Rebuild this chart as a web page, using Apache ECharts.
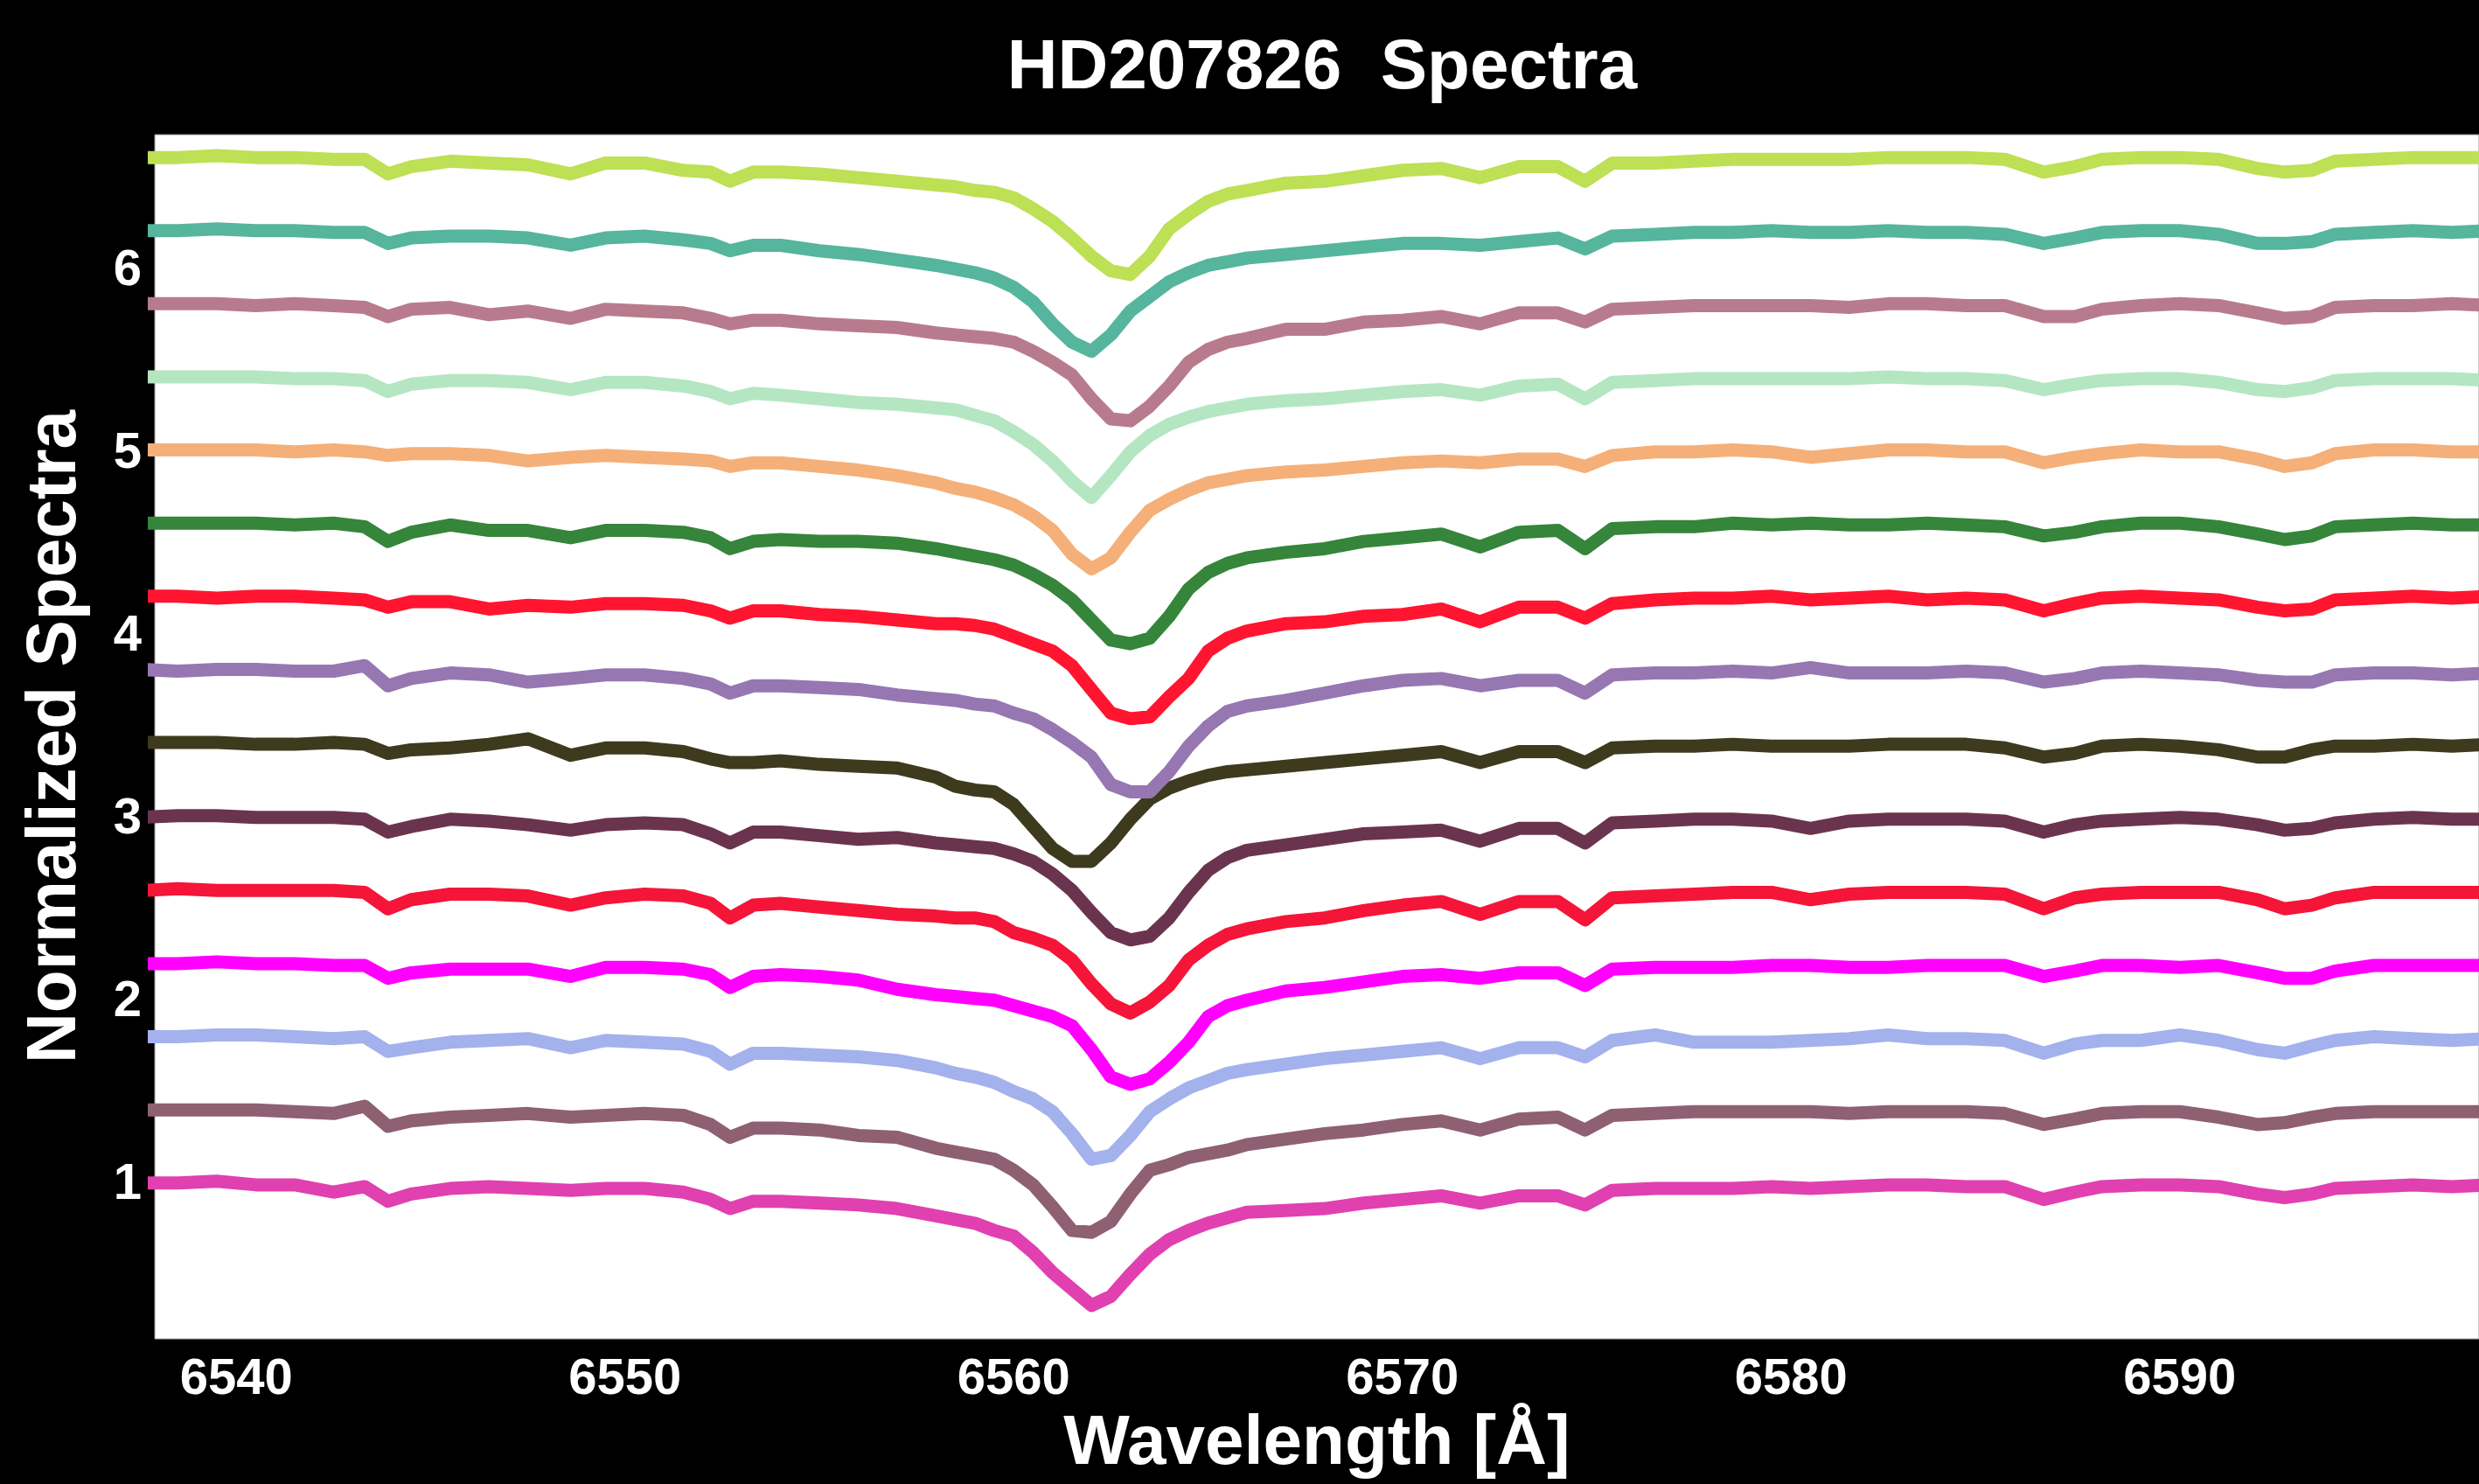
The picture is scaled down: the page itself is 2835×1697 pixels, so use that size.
<!DOCTYPE html>
<html>
<head>
<meta charset="utf-8">
<title>HD207826 Spectra</title>
<script src="https://cdn.jsdelivr.net/npm/echarts@6/dist/echarts.min.js"></script>
<style>
  html, body { margin: 0; padding: 0; background: #000; }
  #chart { width: 2835px; height: 1697px; }
</style>
</head>
<body>
<div id="chart"></div>
<script>
// wavelength grid shared by all spectra (Å)
const wavelength = [6537.5, 6538.5, 6539.5, 6540.5, 6541.5, 6542.5, 6543.3, 6543.9, 6544.5, 6545.5,
  6546.5, 6547.5, 6548.6, 6549.5, 6550.5, 6551.5, 6552.2, 6552.7, 6553.3, 6554.0,
  6555.0, 6556.0, 6557.0, 6558.0, 6558.5, 6559.0, 6559.5, 6560.0, 6560.5, 6561.0,
  6561.5, 6562.0, 6562.5, 6563.0, 6563.5, 6564.0, 6564.5, 6565.0, 6565.5, 6566.0,
  6567.0, 6568.0, 6569.0, 6570.0, 6571.0, 6572.0, 6573.0, 6574.0, 6574.7, 6575.4,
  6576.5, 6577.5, 6578.5, 6579.5, 6580.5, 6581.5, 6582.5, 6583.5, 6584.5, 6585.5,
  6586.5, 6587.3, 6588.0, 6589.0, 6590.0, 6591.0, 6592.0, 6592.7, 6593.4, 6594.0,
  6595.0, 6596.0, 6597.0, 6598.0];

// normalized flux of each spectrum (bottom to top)
const spec1 = [1.01, 1.01, 1.02, 1.00, 1.00, 0.96, 0.99, 0.91, 0.95, 0.98, 0.99, 0.98, 0.97, 0.98, 0.98, 0.96, 0.92, 0.87, 0.91, 0.91, 0.90, 0.89,
  0.87, 0.83, 0.81, 0.79, 0.75, 0.72, 0.63, 0.52, 0.43, 0.34, 0.39, 0.51, 0.62, 0.70, 0.75, 0.79, 0.82, 0.85, 0.86,
  0.87, 0.90, 0.92, 0.94, 0.90, 0.94, 0.94, 0.89, 0.97, 0.98, 0.98, 0.98, 0.99, 0.98, 0.99, 1.00, 1.00, 0.99, 0.99, 0.92, 0.96, 0.99, 1.00, 1.00, 0.99, 0.95, 0.93, 0.95, 0.98, 0.99, 1.00, 0.99, 1.00];
const spec2 = [1.01, 1.01, 1.01, 1.01, 1.00, 0.99, 1.03, 0.92, 0.95, 0.97, 0.98, 0.99, 0.97, 0.98, 0.99, 0.98, 0.93, 0.86, 0.91, 0.91, 0.90, 0.87,
  0.86, 0.80, 0.78, 0.76, 0.74, 0.68, 0.60, 0.48, 0.35, 0.34, 0.40, 0.55, 0.68, 0.71, 0.75, 0.77, 0.79, 0.82, 0.85,
  0.88, 0.90, 0.93, 0.95, 0.90, 0.96, 0.97, 0.90, 0.98, 0.99, 1.00, 1.00, 1.00, 1.00, 0.99, 1.00, 1.00, 1.00, 0.99, 0.93, 0.96, 0.99, 1.00, 1.00, 0.97, 0.93, 0.94, 0.97, 0.99, 1.00, 1.00, 1.00, 1.00];
const spec3 = [1.01, 1.01, 1.02, 1.02, 1.01, 1.00, 1.01, 0.93, 0.95, 0.98, 0.99, 1.00, 0.95, 0.99, 0.98, 0.97, 0.93, 0.86, 0.92, 0.92, 0.91, 0.90,
  0.88, 0.84, 0.81, 0.79, 0.76, 0.71, 0.67, 0.60, 0.48, 0.34, 0.36, 0.47, 0.60, 0.67, 0.73, 0.77, 0.81, 0.83, 0.86,
  0.89, 0.91, 0.93, 0.95, 0.89, 0.95, 0.95, 0.90, 0.99, 1.02, 0.98, 0.98, 0.98, 0.99, 1.00, 1.02, 1.00, 1.00, 0.99, 0.92, 0.97, 0.99, 0.99, 1.02, 0.99, 0.94, 0.92, 0.96, 0.99, 1.01, 1.00, 0.99, 1.00];
const spec4 = [1.01, 1.01, 1.02, 1.01, 1.01, 1.00, 1.00, 0.93, 0.96, 0.98, 0.98, 0.98, 0.94, 0.99, 0.99, 0.98, 0.95, 0.88, 0.94, 0.95, 0.94, 0.92,
  0.87, 0.84, 0.83, 0.82, 0.81, 0.78, 0.75, 0.72, 0.67, 0.54, 0.39, 0.35, 0.38, 0.47, 0.58, 0.72, 0.78, 0.81, 0.86,
  0.88, 0.91, 0.94, 0.95, 0.93, 0.96, 0.96, 0.89, 0.98, 0.99, 0.99, 0.99, 1.00, 1.00, 0.99, 0.99, 1.00, 1.00, 1.00, 0.94, 0.97, 1.00, 1.00, 0.99, 1.00, 0.96, 0.93, 0.93, 0.97, 1.00, 1.00, 1.00, 1.00];
const spec5 = [1.01, 1.02, 1.01, 1.01, 1.01, 1.01, 1.00, 0.91, 0.96, 0.99, 0.99, 0.98, 0.93, 0.97, 0.99, 0.98, 0.94, 0.86, 0.93, 0.94, 0.92, 0.90,
  0.88, 0.87, 0.86, 0.86, 0.84, 0.78, 0.75, 0.71, 0.63, 0.50, 0.39, 0.34, 0.40, 0.49, 0.63, 0.71, 0.77, 0.80, 0.84,
  0.86, 0.90, 0.93, 0.95, 0.88, 0.95, 0.95, 0.85, 0.97, 0.98, 0.99, 1.00, 1.00, 0.96, 0.99, 1.00, 1.00, 1.00, 0.99, 0.91, 0.97, 0.99, 1.00, 1.00, 1.00, 0.96, 0.91, 0.93, 0.97, 1.00, 1.00, 1.00, 1.00];
const spec6 = [1.01, 1.02, 1.02, 1.01, 1.01, 1.01, 1.00, 0.93, 0.96, 1.00, 0.99, 0.97, 0.94, 0.97, 0.98, 0.97, 0.92, 0.87, 0.93, 0.93, 0.91, 0.89,
  0.90, 0.87, 0.86, 0.85, 0.84, 0.81, 0.77, 0.70, 0.61, 0.49, 0.38, 0.34, 0.36, 0.46, 0.60, 0.72, 0.79, 0.83, 0.86,
  0.89, 0.92, 0.93, 0.94, 0.88, 0.95, 0.95, 0.87, 0.98, 0.99, 1.00, 1.00, 0.99, 0.95, 0.99, 1.00, 1.00, 1.00, 0.99, 0.93, 0.97, 0.99, 1.00, 1.01, 1.00, 0.97, 0.94, 0.95, 0.98, 1.00, 1.01, 1.00, 1.00];
const spec7 = [1.02, 1.02, 1.02, 1.01, 1.01, 1.02, 1.01, 0.96, 0.98, 0.99, 1.01, 1.04, 0.95, 0.99, 0.99, 0.97, 0.93, 0.91, 0.91, 0.92, 0.90, 0.89,
  0.88, 0.83, 0.78, 0.76, 0.75, 0.68, 0.56, 0.44, 0.37, 0.37, 0.47, 0.60, 0.71, 0.77, 0.81, 0.84, 0.86, 0.87, 0.89,
  0.91, 0.93, 0.95, 0.97, 0.91, 0.97, 0.97, 0.91, 0.99, 1.00, 1.00, 1.01, 1.00, 1.00, 1.00, 1.01, 1.01, 1.01, 0.99, 0.94, 0.96, 1.00, 1.01, 1.00, 0.98, 0.94, 0.94, 0.98, 1.00, 1.00, 1.01, 1.00, 1.01];
const spec8 = [1.02, 1.01, 1.02, 1.02, 1.01, 1.01, 1.04, 0.93, 0.97, 1.00, 0.99, 0.95, 0.97, 0.99, 0.99, 0.97, 0.94, 0.89, 0.93, 0.93, 0.92, 0.91,
  0.88, 0.86, 0.85, 0.83, 0.82, 0.78, 0.75, 0.69, 0.62, 0.54, 0.39, 0.35, 0.35, 0.46, 0.60, 0.71, 0.79, 0.82, 0.85,
  0.89, 0.93, 0.96, 0.97, 0.93, 0.96, 0.96, 0.89, 0.99, 1.00, 1.00, 1.01, 1.00, 1.03, 1.00, 1.00, 1.00, 1.01, 1.00, 0.95, 0.97, 1.00, 1.01, 1.00, 0.99, 0.96, 0.95, 0.95, 0.99, 1.00, 1.00, 0.99, 1.00];
const spec9 = [1.02, 1.02, 1.01, 1.02, 1.02, 1.01, 1.00, 0.96, 0.99, 0.99, 0.95, 0.97, 0.96, 0.98, 0.98, 0.97, 0.94, 0.90, 0.94, 0.94, 0.92, 0.91,
  0.89, 0.87, 0.87, 0.86, 0.84, 0.80, 0.76, 0.72, 0.64, 0.51, 0.38, 0.35, 0.36, 0.47, 0.57, 0.72, 0.79, 0.83, 0.87,
  0.88, 0.91, 0.92, 0.95, 0.88, 0.96, 0.96, 0.90, 0.98, 1.00, 1.01, 1.01, 1.02, 1.00, 1.01, 1.02, 1.00, 1.01, 1.00, 0.94, 0.98, 1.01, 1.02, 1.01, 1.00, 0.96, 0.94, 0.95, 1.00, 1.01, 1.02, 1.01, 1.02];
const spec10 = [1.02, 1.02, 1.02, 1.02, 1.01, 1.02, 1.00, 0.92, 0.97, 1.01, 0.98, 0.98, 0.94, 0.98, 0.98, 0.97, 0.94, 0.88, 0.92, 0.93, 0.92, 0.92,
  0.91, 0.88, 0.86, 0.84, 0.82, 0.79, 0.74, 0.68, 0.60, 0.49, 0.38, 0.36, 0.39, 0.51, 0.66, 0.75, 0.80, 0.83, 0.86,
  0.88, 0.92, 0.94, 0.96, 0.89, 0.97, 0.98, 0.88, 0.99, 1.00, 1.00, 1.02, 1.01, 1.02, 1.01, 1.01, 1.02, 1.01, 1.00, 0.95, 0.97, 1.00, 1.02, 1.02, 1.00, 0.96, 0.93, 0.95, 1.00, 1.01, 1.02, 1.01, 1.01];
const spec11 = [1.02, 1.02, 1.02, 1.02, 1.01, 1.02, 1.01, 0.99, 1.00, 1.00, 0.99, 0.96, 0.98, 0.99, 0.98, 0.97, 0.96, 0.93, 0.95, 0.95, 0.93, 0.91,
  0.88, 0.84, 0.81, 0.79, 0.76, 0.72, 0.66, 0.58, 0.45, 0.37, 0.43, 0.57, 0.69, 0.75, 0.80, 0.84, 0.86, 0.88, 0.90,
  0.91, 0.93, 0.95, 0.96, 0.95, 0.97, 0.97, 0.93, 0.99, 1.01, 1.01, 1.02, 1.01, 0.98, 1.00, 1.02, 1.02, 1.01, 1.01, 0.95, 0.98, 1.00, 1.02, 1.01, 1.01, 0.97, 0.93, 0.95, 1.00, 1.02, 1.02, 1.01, 1.01];
const spec12 = [1.02, 1.02, 1.02, 1.02, 1.01, 1.01, 1.00, 0.94, 0.98, 1.00, 1.00, 0.99, 0.95, 0.99, 0.99, 0.97, 0.94, 0.90, 0.93, 0.92, 0.90, 0.88,
  0.87, 0.85, 0.84, 0.81, 0.78, 0.72, 0.65, 0.56, 0.45, 0.36, 0.48, 0.61, 0.70, 0.76, 0.80, 0.83, 0.85, 0.87, 0.89,
  0.90, 0.92, 0.94, 0.95, 0.92, 0.97, 0.98, 0.90, 0.99, 1.00, 1.01, 1.01, 1.01, 1.01, 1.01, 1.02, 1.01, 1.01, 1.00, 0.95, 0.98, 1.00, 1.01, 1.01, 0.99, 0.95, 0.94, 0.96, 1.00, 1.01, 1.01, 1.01, 1.00];
const spec13 = [1.02, 1.02, 1.02, 1.01, 1.02, 1.01, 1.00, 0.95, 0.99, 1.00, 0.96, 0.98, 0.94, 0.99, 0.98, 0.97, 0.94, 0.91, 0.93, 0.93, 0.91, 0.90,
  0.89, 0.86, 0.85, 0.84, 0.83, 0.81, 0.76, 0.70, 0.63, 0.50, 0.39, 0.38, 0.46, 0.57, 0.70, 0.77, 0.81, 0.83, 0.88,
  0.88, 0.92, 0.93, 0.95, 0.91, 0.97, 0.97, 0.92, 0.99, 1.00, 1.01, 1.01, 1.01, 1.01, 1.00, 1.02, 1.02, 1.01, 1.01, 0.95, 0.95, 0.99, 1.01, 1.02, 1.01, 0.97, 0.94, 0.95, 1.00, 1.01, 1.01, 1.02, 1.01];
const spec14 = [1.02, 1.02, 1.03, 1.02, 1.02, 1.01, 1.01, 0.95, 0.98, 0.99, 0.99, 0.98, 0.94, 0.98, 0.99, 0.97, 0.95, 0.91, 0.94, 0.94, 0.91, 0.89,
  0.86, 0.83, 0.81, 0.79, 0.76, 0.71, 0.63, 0.51, 0.41, 0.36, 0.45, 0.58, 0.66, 0.74, 0.79, 0.83, 0.85, 0.87, 0.89,
  0.91, 0.93, 0.95, 0.95, 0.94, 0.96, 0.98, 0.92, 0.99, 1.00, 1.01, 1.01, 1.02, 1.01, 1.01, 1.02, 1.01, 1.01, 1.00, 0.95, 0.98, 1.01, 1.02, 1.02, 1.00, 0.95, 0.95, 0.96, 1.00, 1.01, 1.02, 1.01, 1.02];
const spec15 = [1.02, 1.02, 1.03, 1.02, 1.02, 1.01, 1.01, 0.93, 0.97, 1.00, 0.99, 0.98, 0.93, 0.99, 0.99, 0.95, 0.94, 0.89, 0.94, 0.94, 0.93, 0.91,
  0.89, 0.87, 0.86, 0.84, 0.83, 0.80, 0.74, 0.67, 0.58, 0.48, 0.40, 0.38, 0.48, 0.63, 0.71, 0.78, 0.82, 0.84, 0.88,
  0.89, 0.92, 0.95, 0.96, 0.91, 0.97, 0.97, 0.89, 0.99, 0.99, 1.00, 1.01, 1.01, 1.01, 1.01, 1.02, 1.02, 1.02, 1.01, 0.94, 0.97, 1.01, 1.02, 1.02, 1.01, 0.96, 0.94, 0.95, 1.00, 1.01, 1.02, 1.02, 1.02];

const spectra = [spec1, spec2, spec3, spec4, spec5, spec6, spec7, spec8, spec9, spec10, spec11, spec12, spec13, spec14, spec15];
// vertical shift added to each spectrum
const offsets = [0, 0.4, 0.8, 1.2, 1.6, 2.0, 2.4, 2.8, 3.2, 3.6, 4.0, 4.4, 4.8, 5.2, 5.6];
const colors = ['#e040b0', '#8e6072', '#a3b1ec', '#ff00ff', '#f41538', '#6b344e', '#3e3a1e', '#9677b2',
  '#ff1530', '#35853a', '#f4b078', '#b4e6c2', '#b87b8e', '#55b59d', '#bde054'];

const xTicks = [6540, 6550, 6560, 6570, 6580, 6590];
const yTicks = [1, 2, 3, 4, 5, 6];

const chart = echarts.init(document.getElementById('chart'));

const series = spectra.map((flux, k) => {
  if (flux.length !== wavelength.length) console.warn('length mismatch', k, flux.length);
  return {
    type: 'line',
    showSymbol: false,
    data: wavelength.map((w, i) => [w, +(flux[i] + offsets[k]).toFixed(3)]),
    lineStyle: { color: colors[k], width: 15, cap: 'round', join: 'round' },
    itemStyle: { color: colors[k] },
    clip: true
  };
});

const font = 'Liberation Sans, Arial, sans-serif';

const option = {
  backgroundColor: '#000',
  animation: false,
  title: {
    text: 'HD207826  Spectra',
    left: 1512,
    top: 39,
    textAlign: 'center',
    padding: 0,
    textStyle: { color: '#fff', fontSize: 80, fontWeight: 'bold', fontFamily: font }
  },
  grid: {
    left: 177, right: 0, top: 154, bottom: 164,
    show: true, backgroundColor: '#fff', borderColor: '#999', borderWidth: 1
  },
  xAxis: {
    type: 'value',
    min: 6537.9,
    max: 6597.7,
    name: 'Wavelength [Å]',
    nameLocation: 'middle',
    nameGap: 77,
    nameTextStyle: { color: '#fff', fontSize: 80, fontWeight: 'bold', fontFamily: font },
    axisLine: { show: false },
    axisTick: { show: false },
    splitLine: { show: false },
    axisLabel: {
      customValues: xTicks,
      formatter: (v) => String(v),
      color: '#fff', fontSize: 58, fontWeight: 'bold', fontFamily: font, margin: 18
    }
  },
  yAxis: {
    type: 'value',
    min: 0.157,
    max: 6.745,
    name: 'Normalized Spectra',
    nameLocation: 'middle',
    nameRotate: 90,
    nameGap: 73,
    nameTextStyle: { color: '#fff', fontSize: 80, fontWeight: 'bold', fontFamily: font },
    axisLine: { show: false },
    axisTick: { show: false },
    splitLine: { show: false },
    axisLabel: {
      customValues: yTicks,
      color: '#fff', fontSize: 58, fontWeight: 'bold', fontFamily: font, margin: 15
    }
  },
  series: series
};

chart.setOption(option);
</script>
</body>
</html>
